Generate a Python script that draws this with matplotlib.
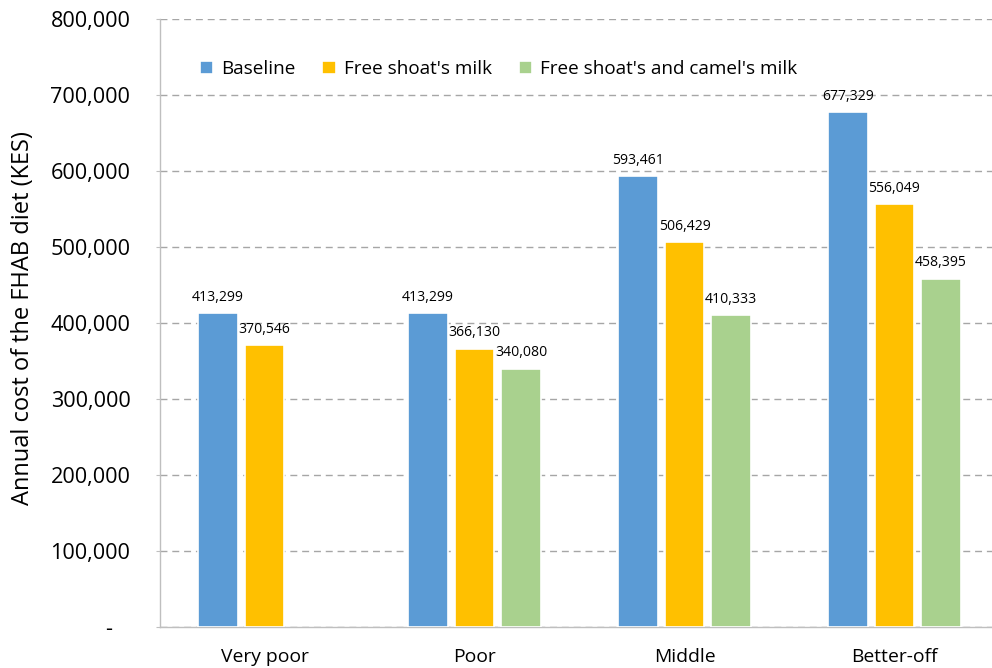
import matplotlib
matplotlib.use("Agg")
import matplotlib.pyplot as plt
import numpy as np
from matplotlib.ticker import FuncFormatter

categories = ["Very poor", "Poor", "Middle", "Better-off"]
series_names = ["Baseline", "Free shoat's milk", "Free shoat's and camel's milk"]
baseline = [413299, 413299, 593461, 677329]
free_shoat = [370546, 366130, 506429, 556049]
free_shoat_camel = [None, 340080, 410333, 458395]
colors = ["#5B9BD5", "#FFC000", "#A9D18E"]
y_label = "Annual cost of the FHAB diet (KES)"

plt.rcParams["font.family"] = ["Open Sans", "DejaVu Sans"]

fig = plt.figure(figsize=(9.92, 6.68), dpi=100)
W, H = 992, 668
left_px, right_px, top_px, bottom_px = 159.5, 992, 19, 627
ax = fig.add_axes([left_px / W, 1 - bottom_px / H,
                   (right_px - left_px) / W, (bottom_px - top_px) / H])

x = np.arange(len(categories))
slot = 0.222
bar_w = 0.19
for i, (vals, name, col) in enumerate(zip([baseline, free_shoat, free_shoat_camel],
                                          series_names, colors)):
    xs = [xi + (i - 1) * slot for xi, v in zip(x, vals) if v is not None]
    vs = [v for v in vals if v is not None]
    bars = ax.bar(xs, vs, width=bar_w, color=col, edgecolor="white",
                  linewidth=1.2, label=name, zorder=3)
    for b, v in zip(bars, vs):
        ax.annotate(f"{v:,}", (b.get_x() + b.get_width() / 2, v),
                    xytext=(0, 6), textcoords="offset points",
                    ha="center", va="bottom", fontsize=10.1, color="#000000")

ax.set_ylim(0, 800000)
ax.set_xlim(-0.5, -0.5 + (right_px - left_px) / 210.0)
ax.set_yticks(np.arange(0, 800001, 100000))
ax.yaxis.set_major_formatter(FuncFormatter(lambda v, p: "-   " if v == 0 else f"{int(v):,}"))
ax.set_xticks(x)
ax.set_xticklabels(categories)

ax.grid(axis="y", color="#A6A6A6", linestyle=(0, (5, 3.5)), linewidth=1.0, zorder=0)
for s in ["top", "right"]:
    ax.spines[s].set_visible(False)
for s in ["left", "bottom"]:
    ax.spines[s].set_color("#BFBFBF")
    ax.spines[s].set_linewidth(1.0)

ax.tick_params(axis="y", length=3, color="#BFBFBF", pad=18, labelsize=15.6)
ax.tick_params(axis="x", length=0, pad=15, labelsize=13.9)
ax.set_ylabel(y_label, fontsize=17)
ax.yaxis.set_label_coords(-0.164, 0.508)
ax.yaxis.label.set_verticalalignment("center")

ax.legend(loc="upper left", bbox_to_anchor=(0.028, 0.96), ncol=3, frameon=False,
          fontsize=13.6, handlelength=0.7, handleheight=0.7, handletextpad=0.45,
          columnspacing=1.4)

fig.savefig("out.png", dpi=100)
